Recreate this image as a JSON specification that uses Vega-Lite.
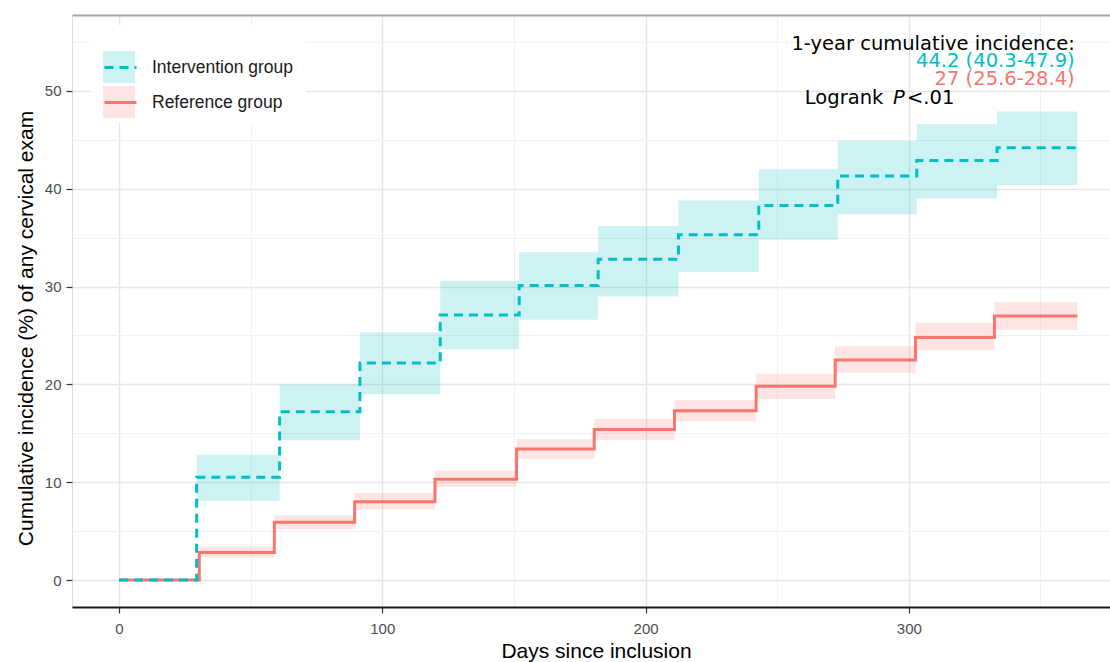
{
  "$schema": "https://vega.github.io/schema/vega-lite/v6.json",
  "width": 1038,
  "height": 592,
  "autosize": {"type": "none"},
  "padding": {"left": 72, "top": 15, "right": 0, "bottom": 55},
  "background": "white",
  "config": {
    "font": "Liberation Sans",
    "view": {"stroke": "#DCDCDC", "strokeWidth": 1}
  },
  "datasets": {
    "km": [
      {"group": "Reference group", "day": 0, "est": 0, "lo": 0, "hi": 0},
      {"group": "Reference group", "day": 30.5, "est": 2.8, "lo": 2.3, "hi": 3.4},
      {"group": "Reference group", "day": 59, "est": 5.9, "lo": 5.2, "hi": 6.6},
      {"group": "Reference group", "day": 89.5, "est": 8.0, "lo": 7.2, "hi": 8.9},
      {"group": "Reference group", "day": 120, "est": 10.3, "lo": 9.5, "hi": 11.2},
      {"group": "Reference group", "day": 151, "est": 13.4, "lo": 12.4, "hi": 14.4},
      {"group": "Reference group", "day": 180.5, "est": 15.4, "lo": 14.3, "hi": 16.5},
      {"group": "Reference group", "day": 211, "est": 17.3, "lo": 16.2, "hi": 18.4},
      {"group": "Reference group", "day": 242, "est": 19.8, "lo": 18.5, "hi": 21.1},
      {"group": "Reference group", "day": 272, "est": 22.5, "lo": 21.2, "hi": 23.9},
      {"group": "Reference group", "day": 302.5, "est": 24.8, "lo": 23.5, "hi": 26.3},
      {"group": "Reference group", "day": 332.5, "est": 27.0, "lo": 25.6, "hi": 28.4},
      {"group": "Reference group", "day": 364, "est": 27.0, "lo": 25.6, "hi": 28.4},
      {"group": "Intervention group", "day": 0, "est": 0, "lo": 0, "hi": 0},
      {"group": "Intervention group", "day": 29.5, "est": 10.5, "lo": 8.1, "hi": 12.8},
      {"group": "Intervention group", "day": 61, "est": 17.2, "lo": 14.3, "hi": 20.0},
      {"group": "Intervention group", "day": 91.5, "est": 22.2, "lo": 19.0, "hi": 25.3},
      {"group": "Intervention group", "day": 122, "est": 27.1, "lo": 23.6, "hi": 30.6},
      {"group": "Intervention group", "day": 152, "est": 30.1, "lo": 26.6, "hi": 33.5},
      {"group": "Intervention group", "day": 182, "est": 32.8, "lo": 29.0, "hi": 36.2},
      {"group": "Intervention group", "day": 212.5, "est": 35.3, "lo": 31.5, "hi": 38.8},
      {"group": "Intervention group", "day": 243, "est": 38.3, "lo": 34.8, "hi": 42.0},
      {"group": "Intervention group", "day": 273, "est": 41.3, "lo": 37.4, "hi": 44.9},
      {"group": "Intervention group", "day": 303, "est": 42.9, "lo": 39.0, "hi": 46.6},
      {"group": "Intervention group", "day": 333.5, "est": 44.2, "lo": 40.4, "hi": 47.9},
      {"group": "Intervention group", "day": 364, "est": 44.2, "lo": 40.4, "hi": 47.9}
    ]
  },
  "data": {"name": "km"},
  "resolve": {"axis": {"x": "independent", "y": "independent"}},
  "layer": [
    {
      "mark": {"type": "area", "interpolate": "step-after", "fillOpacity": 0.2},
      "encoding": {
        "x": {"field": "day", "type": "quantitative", "scale": {"domain": [-17.85, 376.4], "nice": false, "zero": false}, "axis": null},
        "y": {"field": "lo", "type": "quantitative", "scale": {"domain": [-2.76, 57.77], "nice": false, "zero": false}, "axis": null},
        "y2": {"field": "hi"},
        "fill": {
          "field": "group", "type": "nominal",
          "scale": {"domain": ["Intervention group", "Reference group"], "range": ["#00BFC4", "#F8766D"]},
          "legend": {
            "orient": "none", "legendX": 19, "legendY": 11,
            "title": " ", "titleFontSize": 10, "titlePadding": 3,
            "padding": 12,
            "symbolType": "square", "symbolSize": 1024, "symbolOpacity": 0.2,
            "symbolStrokeWidth": 0, "symbolStrokeColor": "transparent",
            "labelExpr": "''", "labelFontSize": 17.5, "labelOffset": 14,
            "rowPadding": 3, "zindex": 2
          }
        }
      }
    },
    {
      "transform": [{"filter": "datum.group === 'Reference group'"}],
      "mark": {"type": "line", "interpolate": "step-after", "strokeWidth": 3},
      "encoding": {
        "x": {
          "field": "day", "type": "quantitative",
          "axis": {
            "orient": "bottom", "title": "Days since inclusion",
            "values": [0, 50, 100, 150, 200, 250, 300, 350],
            "labelExpr": "datum.value % 100 === 0 ? datum.label : ''",
            "grid": true,
            "gridColor": {"condition": {"test": "datum.value % 100 !== 0", "value": "#F2F2F2"}, "value": "#E6E6E6"},
            "gridWidth": {"condition": {"test": "datum.value % 100 !== 0", "value": 1}, "value": 1.4},
            "tickOpacity": {"condition": {"test": "datum.value % 100 !== 0", "value": 0}, "value": 1},
            "domainColor": "#1A1A1A", "domainWidth": 2,
            "tickColor": "#333333", "tickSize": 6, "tickWidth": 1.2,
            "labelFontSize": 15, "labelColor": "#4D4D4D", "labelPadding": 8,
            "titleFontSize": 21, "titleFontWeight": "normal", "titleColor": "#000000", "titlePadding": 4,
            "titleX": 524
          }
        },
        "y": {
          "field": "est", "type": "quantitative",
          "axis": {
            "orient": "left", "title": "Cumulative incidence (%) of any cervical exam",
            "values": [0, 5, 10, 15, 20, 25, 30, 35, 40, 45, 50, 55],
            "labelExpr": "datum.value % 10 === 0 ? datum.label : ''",
            "grid": true,
            "gridColor": {"condition": {"test": "datum.value % 10 !== 0", "value": "#F2F2F2"}, "value": "#E6E6E6"},
            "gridWidth": {"condition": {"test": "datum.value % 10 !== 0", "value": 1}, "value": 1.4},
            "tickOpacity": {"condition": {"test": "datum.value % 10 !== 0", "value": 0}, "value": 1},
            "domain": false,
            "tickColor": "#333333", "tickSize": 6, "tickWidth": 1.2,
            "labelFontSize": 15, "labelColor": "#4D4D4D", "labelPadding": 5,
            "titleFontSize": 21, "titleFontWeight": "normal", "titleColor": "#000000", "titlePadding": 8,
            "titleY": 313
          }
        },
        "stroke": {
          "field": "group", "type": "nominal",
          "scale": {"range": ["#00BFC4", "#F8766D"]},
          "legend": {
            "orient": "none", "legendX": 19, "legendY": 10,
            "title": " ", "titleFontSize": 10, "titlePadding": 3,
            "padding": 12, "fillColor": "white",
            "symbolType": "stroke", "symbolSize": 1024, "symbolStrokeWidth": 3,
            "labelFontSize": 17.5, "labelColor": "#1A1A1A", "labelOffset": 14,
            "rowPadding": 9, "zindex": 1
          }
        },
        "strokeDash": {
          "field": "group", "type": "nominal",
          "scale": {"range": [[9, 6], [1, 0]]},
          "legend": {
            "orient": "none", "legendX": 19, "legendY": 10,
            "title": " ", "titleFontSize": 10, "titlePadding": 3,
            "padding": 12, "fillColor": "white",
            "symbolType": "stroke", "symbolSize": 1024, "symbolStrokeWidth": 3,
            "labelFontSize": 17.5, "labelColor": "#1A1A1A", "labelOffset": 14,
            "rowPadding": 9, "zindex": 1
          }
        }
      }
    },
    {
      "transform": [{"filter": "datum.group === 'Intervention group'"}],
      "mark": {"type": "line", "interpolate": "step-after", "strokeWidth": 3},
      "encoding": {
        "x": {"field": "day", "type": "quantitative", "axis": null},
        "y": {"field": "est", "type": "quantitative", "axis": null},
        "stroke": {"field": "group", "type": "nominal"},
        "strokeDash": {"field": "group", "type": "nominal"}
      }
    },
    {
      "data": {"values": [{}]},
      "mark": {"type": "text", "align": "right", "baseline": "alphabetic", "fontSize": 19.5, "font": "DejaVu Sans", "color": "#000000"},
      "encoding": {
        "x": {"datum": 363, "type": "quantitative", "axis": {"orient": "top", "domain": true, "domainColor": "#A6A6A6", "domainWidth": 2, "labels": false, "ticks": false, "grid": false, "title": null}},
        "y": {"datum": 54.19, "type": "quantitative", "axis": null},
        "text": {"value": "1-year cumulative incidence:"}
      }
    },
    {
      "data": {"values": [{}]},
      "mark": {"type": "text", "align": "right", "baseline": "alphabetic", "fontSize": 19.5, "font": "DejaVu Sans", "color": "#00BFC4"},
      "encoding": {
        "x": {"datum": 363, "type": "quantitative", "axis": null},
        "y": {"datum": 52.45, "type": "quantitative", "axis": null},
        "text": {"value": "44.2 (40.3-47.9)"}
      }
    },
    {
      "data": {"values": [{}]},
      "mark": {"type": "text", "align": "right", "baseline": "alphabetic", "fontSize": 19.5, "font": "DejaVu Sans", "color": "#F8766D"},
      "encoding": {
        "x": {"datum": 363, "type": "quantitative", "axis": null},
        "y": {"datum": 50.6, "type": "quantitative", "axis": null},
        "text": {"value": "27 (25.6-28.4)"}
      }
    },
    {
      "data": {"values": [{}]},
      "mark": {"type": "text", "align": "left", "baseline": "alphabetic", "fontSize": 19.5, "font": "DejaVu Sans", "color": "#000000"},
      "encoding": {
        "x": {"datum": 260.5, "type": "quantitative", "axis": null},
        "y": {"datum": 48.67, "type": "quantitative", "axis": null},
        "text": {"value": "Logrank"}
      }
    },
    {
      "data": {"values": [{}]},
      "mark": {"type": "text", "align": "left", "baseline": "alphabetic", "fontSize": 19.5, "font": "DejaVu Sans", "fontStyle": "italic", "color": "#000000"},
      "encoding": {
        "x": {"datum": 294, "type": "quantitative", "axis": null},
        "y": {"datum": 48.67, "type": "quantitative", "axis": null},
        "text": {"value": "P"}
      }
    },
    {
      "data": {"values": [{}]},
      "mark": {"type": "text", "align": "left", "baseline": "alphabetic", "fontSize": 19.5, "font": "DejaVu Sans", "color": "#000000"},
      "encoding": {
        "x": {"datum": 299.3, "type": "quantitative", "axis": null},
        "y": {"datum": 48.67, "type": "quantitative", "axis": null},
        "text": {"value": "<.01"}
      }
    }
  ]
}
